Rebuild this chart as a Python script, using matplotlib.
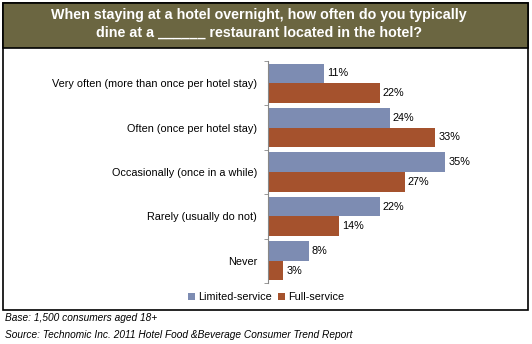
import matplotlib
matplotlib.use("Agg")
import matplotlib.pyplot as plt
from matplotlib.patches import Rectangle
import numpy as np

categories = ["Very often (more than once per hotel stay)",
              "Often (once per hotel stay)",
              "Occasionally (once in a while)",
              "Rarely (usually do not)",
              "Never"]
limited = [11, 24, 35, 22, 8]
full = [22, 33, 27, 14, 3]
series_names = ["Limited-service", "Full-service"]

blue = "#7d8cb2"
orange = "#a5522d"
olive = "#6b6641"

plt.rcParams['font.family'] = ['Liberation Sans', 'DejaVu Sans']

W, H = 532, 344
fig = plt.figure(figsize=(W/100, H/100), dpi=100)

def fx(px): return px / W
def fy(py): return 1 - py / H

# outer frame
fig.patches.append(Rectangle((fx(2.5), fy(309.5)), fx(525), (307/H), transform=fig.transFigure,
                             fill=False, edgecolor="black", linewidth=1.2, zorder=0))
# title banner
fig.patches.append(Rectangle((fx(2.5), fy(47.5)), fx(525), (45/H), transform=fig.transFigure,
                             facecolor=olive, edgecolor="black", linewidth=1.2, zorder=1))
fig.text(fx(259), fy(15), "When staying at a hotel overnight, how often do you typically",
         ha="center", va="center", color="white", fontsize=10.3, fontweight="bold")
fig.text(fx(259), fy(33), "dine at a ______ restaurant located in the hotel?",
         ha="center", va="center", color="white", fontsize=10.3, fontweight="bold")

ax_left, ax_right = 268, 510
ax_top, ax_bot = 61, 283
ax = fig.add_axes([fx(ax_left), fy(ax_bot), (ax_right-ax_left)/W, (ax_bot-ax_top)/H])
ppp = 5.07
ax.set_xlim(0, (ax_right-ax_left)/ppp)

n = len(categories)
y = np.arange(n)
h = 0.44
ax.barh(y - h/2, limited, height=h, color=blue, label=series_names[0])
ax.barh(y + h/2, full, height=h, color=orange, label=series_names[1])
ax.set_ylim(n - 0.5, -0.5)
for yi, v in zip(y, limited):
    ax.text(v + 0.6, yi - h/2, f"{v}%", va="center", ha="left", fontsize=7.8)
for yi, v in zip(y, full):
    ax.text(v + 0.6, yi + h/2, f"{v}%", va="center", ha="left", fontsize=7.8)

ax.set_yticks(y)
ax.set_yticklabels(categories, fontsize=7.8)
ax.set_yticks(np.arange(n + 1) - 0.5, minor=True)
ax.tick_params(axis="y", which="major", length=0, pad=8)
ax.tick_params(axis="y", which="minor", length=3, color="#888888")
ax.set_xticks([])
for s in ["top", "right", "bottom"]:
    ax.spines[s].set_visible(False)
ax.spines["left"].set_color("#888888")
ax.spines["left"].set_linewidth(0.8)

leg = fig.legend(loc="center", bbox_to_anchor=(fx(266), fy(297)), ncol=2, frameon=False,
                 fontsize=7.8, handlelength=0.6, handleheight=0.6, handletextpad=0.3,
                 columnspacing=0.6)

fig.text(fx(5), fy(318), "Base: 1,500 consumers aged 18+", fontsize=7.3, style="italic",
         ha="left", va="center")
fig.text(fx(5), fy(335), "Source: Technomic Inc. 2011 Hotel Food &Beverage Consumer Trend Report",
         fontsize=7.3, style="italic", ha="left", va="center")

fig.savefig("out.png", dpi=100)
